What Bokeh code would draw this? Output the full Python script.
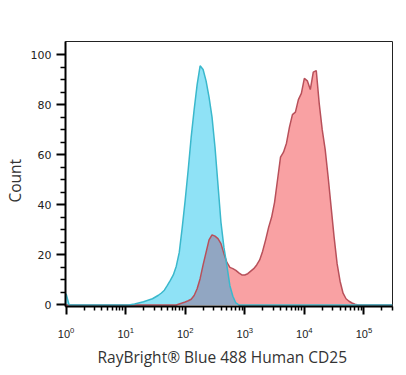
import numpy as np
from bokeh.plotting import figure
from bokeh.models import Range1d, FixedTicker, LogTickFormatter, Title
from bokeh.embed import file_html
from bokeh.resources import INLINE

# Bin positions in decades (log10 of fluorescence intensity)
log_bins = [0.0, 0.05, 1.0, 1.05, 1.10, 1.15, 1.20, 1.25, 1.30, 1.35, 1.40, 1.45,
            1.50, 1.55, 1.60, 1.65, 1.70, 1.75, 1.80, 1.85, 1.90, 1.95,
            2.00, 2.05, 2.10, 2.15, 2.20, 2.25, 2.30, 2.35, 2.40, 2.45,
            2.50, 2.55, 2.60, 2.65, 2.70, 2.75, 2.80, 2.85, 2.90, 2.95,
            3.00, 3.05, 3.10, 3.15, 3.20, 3.25, 3.30, 3.35, 3.40, 3.45,
            3.50, 3.55, 3.60, 3.65, 3.70, 3.75, 3.80, 3.85, 3.90, 3.95,
            4.00, 4.05, 4.10, 4.15, 4.20, 4.25, 4.30, 4.35, 4.40, 4.45,
            4.50, 4.55, 4.60, 4.65, 4.70, 4.75, 4.80, 4.85, 4.90, 5.48]

# Unstained / isotype control (cyan)
control_counts = [4.5, 0, 0, 0, 0.2, 0.4, 0.7, 1.0, 1.3, 1.7, 2.1, 2.5,
                  3.2, 3.9, 4.8, 5.9, 7.8, 9.8, 12.0, 15.5, 21.0, 31.0,
                  42.0, 54.0, 67.0, 78.0, 88.0, 95.5, 94.0, 89.5, 83.0, 75.0,
                  63.0, 48.0, 33.0, 23.0, 15.6, 7.7, 3.5, 0.8, 0, 0,
                  0, 0, 0, 0, 0, 0, 0, 0, 0, 0,
                  0, 0, 0, 0, 0, 0, 0, 0, 0, 0,
                  0, 0, 0, 0, 0, 0, 0, 0, 0, 0,
                  0, 0, 0, 0, 0, 0, 0, 0, 0, 0]

# RayBright Blue 488 Human CD25 stained (red)
stained_counts = [0, 0, 0, 0, 0, 0, 0, 0, 0, 0, 0, 0,
                  0, 0, 0, 0, 0, 0, 0, 0, 0.4, 0.8,
                  1.2, 1.7, 2.3, 3.8, 6.5, 10.5, 16.0, 21.0, 26.0, 28.0,
                  27.5, 26.5, 24.5, 20.5, 17.0, 15.0, 14.5, 13.8, 12.8, 12.0,
                  12.0, 12.5, 13.5, 14.5, 16.0, 18.0, 21.5, 26.0, 31.0, 35.0,
                  41.0, 50.0, 59.0, 61.0, 64.6, 71.0, 76.0, 77.0, 82.0, 84.5,
                  90.5, 89.5, 86.0, 93.0, 93.6, 80.4, 70.0, 62.0, 51.0, 39.0,
                  27.0, 16.5, 9.5, 4.7, 2.5, 1.5, 0.8, 0.3, 0, 0]

y_ticks = [0, 20, 40, 60, 80, 100]
y_minor = [5, 10, 15, 25, 30, 35, 45, 50, 55, 65, 70, 75, 85, 90, 95]
x_decades = [0, 1, 2, 3, 4, 5]

x = 10 ** np.array(log_bins)
ctrl = np.array(control_counts)
stn = np.array(stained_counts)
overlap = np.minimum(ctrl, stn)

p = figure(width=406, height=375, x_axis_type="log",
           x_range=Range1d(10 ** -0.01, 10 ** 5.48), y_range=Range1d(-0.6, 105.2),
           output_backend="svg", toolbar_location=None,
           min_border_left=63, min_border_top=41, min_border_right=14, min_border_bottom=69)

p.varea(x=x, y1=0, y2=ctrl, fill_color="#8fe2f6")
p.varea(x=x, y1=0, y2=stn, fill_color="#f9a1a3")
p.varea(x=x, y1=0, y2=overlap, fill_color="#91a6c2")
p.line(x=x, y=stn, line_color="#b8505a", line_width=1.5)
p.line(x=x, y=ctrl, line_color="#3ab8cc", line_width=1.5)

p.xgrid.visible = False
p.ygrid.visible = False
p.outline_line_color = "#222222"
p.outline_line_width = 1

major = [10 ** d for d in x_decades]
minor = [m * 10 ** d for d in x_decades for m in range(2, 10)]
p.xaxis.ticker = FixedTicker(ticks=major, minor_ticks=minor)
p.xaxis.formatter = LogTickFormatter()
p.yaxis.ticker = FixedTicker(ticks=y_ticks, minor_ticks=y_minor)

for ax in (p.xaxis[0], p.yaxis[0]):
    ax.axis_line_width = 2
    ax.axis_line_color = "black"
    ax.major_tick_line_width = 2
    ax.minor_tick_line_width = 1.5
    ax.major_tick_line_color = "black"
    ax.minor_tick_line_color = "black"
    ax.major_tick_in = 0
    ax.minor_tick_in = 0
    ax.major_label_text_color = "#222222"

p.xaxis.major_label_text_font = "Liberation Sans"
p.xaxis.major_label_text_font_size = "11px"
p.yaxis.major_label_text_font = "DejaVu Sans"
p.yaxis.major_label_text_font_size = "11px"

p.yaxis.major_tick_out = 9
p.yaxis.minor_tick_out = 5
p.yaxis.major_label_standoff = 5

p.xaxis.major_tick_out = 8
p.xaxis.minor_tick_out = 4
p.xaxis.major_label_standoff = 12

xlabel = Title(text="RayBright® Blue 488 Human CD25", align="left", offset=32,
               text_font="Open Sans", text_font_size="15.5px", text_font_style="normal",
               text_color="#333333", standoff=7)
p.add_layout(xlabel, "below")

ylabel = Title(text="Count", align="left", offset=104,
               text_font="Open Sans", text_font_size="15.5px", text_font_style="normal",
               text_color="#333333", standoff=3)
p.add_layout(ylabel, "left")

open("out.html", "w").write(file_html(p, INLINE))
